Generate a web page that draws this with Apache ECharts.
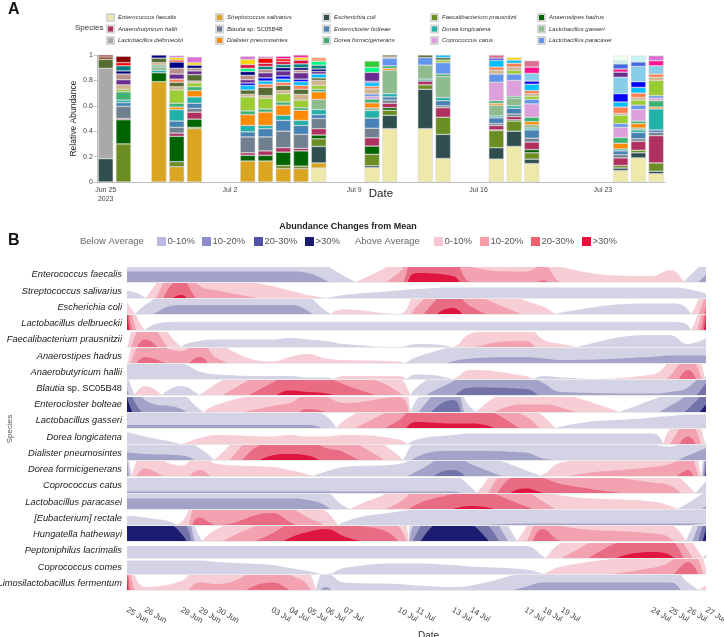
<!DOCTYPE html>
<html>
<head>
<meta charset="utf-8">
<script src="https://cdn.jsdelivr.net/npm/echarts@6/dist/echarts.min.js"></script>
<style>
  html, body { margin: 0; padding: 0; background: #fff; }
  #chart { width: 724px; height: 637px; }
</style>
</head>
<body>
<div id="chart"></div>
<script>
// ---- Panel A: sampled days (offset from Jun 25, 2023) ----
const daysA = [0, 1, 3, 4, 5, 8, 9, 10, 11, 12, 15, 16, 18, 19, 22, 23, 24, 29, 30, 31]
const yTicksA = [0, 0.2, 0.4, 0.6, 0.8, 1]

// relative abundance per sample (same order as daysA)
const abEfaecalis = [0, 0, 0, 0, 0, 0, 0, 0, 0, 0.11, 0.113, 0.42, 0.42, 0.185, 0.18, 0.28, 0.145, 0.09, 0.19, 0.065]
const abSsalivarius = [0, 0, 0.79, 0.12, 0.42, 0.165, 0.165, 0.105, 0.105, 0.04, 0, 0, 0, 0, 0, 0, 0, 0, 0, 0]
const abEcoli = [0.184, 0, 0, 0, 0, 0, 0, 0, 0, 0.13, 0.015, 0.105, 0.31, 0.19, 0.09, 0.12, 0.035, 0.02, 0.04, 0.02]
const abFprausnitzii = [0, 0.30, 0, 0.04, 0.01, 0, 0, 0.025, 0.02, 0.06, 0.09, 0.04, 0.035, 0.135, 0.135, 0.08, 0.05, 0.02, 0.02, 0.065]
const abAhadrus = [0, 0.19, 0.07, 0.20, 0.065, 0.045, 0.045, 0.105, 0.12, 0.03, 0.065, 0.02, 0, 0, 0.005, 0.01, 0.025, 0, 0, 0]
const abAhallii = [0, 0.01, 0, 0.025, 0.055, 0.02, 0.035, 0.035, 0.02, 0.05, 0.065, 0.035, 0.03, 0.075, 0.035, 0.025, 0.06, 0.06, 0.07, 0.215]
const abBlautia = [0, 0.095, 0, 0.045, 0.03, 0.125, 0.11, 0.13, 0.11, 0.08, 0.075, 0.025, 0, 0.015, 0.015, 0.02, 0.03, 0.025, 0.02, 0.025]
const abEbolteae = [0, 0.03, 0, 0.05, 0.04, 0.04, 0.065, 0.085, 0.07, 0.03, 0.08, 0.025, 0, 0.04, 0.045, 0.045, 0.065, 0.03, 0.05, 0.02]
const abDlongicatena = [0, 0.02, 0.02, 0.09, 0.05, 0.05, 0.025, 0.04, 0.04, 0.04, 0.06, 0.025, 0.015, 0.025, 0.015, 0.02, 0.015, 0.015, 0.02, 0.165]
const abLgasseri = [0, 0, 0.025, 0, 0, 0, 0, 0, 0, 0.08, 0.02, 0.185, 0.11, 0.165, 0.085, 0.06, 0.025, 0, 0.015, 0]
const abLdelbrueckii = [0.711, 0, 0, 0, 0, 0, 0, 0, 0, 0, 0, 0, 0, 0, 0, 0, 0, 0, 0, 0]
const abDialister = [0, 0, 0, 0.02, 0.05, 0.085, 0.105, 0.08, 0.08, 0.06, 0.04, 0.015, 0, 0, 0.015, 0, 0.025, 0.045, 0.035, 0.015]
const abDformicigenerans = [0, 0.065, 0.015, 0.03, 0.03, 0.03, 0.025, 0.025, 0.02, 0.02, 0.03, 0.02, 0, 0.02, 0.02, 0.015, 0.035, 0.045, 0.02, 0.05]
const abCcatus = [0, 0, 0, 0, 0, 0, 0, 0, 0, 0, 0.02, 0, 0, 0, 0.145, 0.125, 0.105, 0.08, 0.09, 0.02]
const abLparacasei = [0, 0, 0, 0, 0, 0, 0, 0, 0, 0, 0.02, 0.06, 0.06, 0.09, 0.065, 0.05, 0.035, 0.03, 0.035, 0.02]

// minor taxa (not in legend)
const abYellowgreen = [0, 0.02, 0, 0.105, 0.03, 0.11, 0.085, 0.065, 0.06, 0.03, 0, 0, 0, 0.02, 0, 0.03, 0.025, 0.065, 0.04, 0.12]
const abTan = [0, 0.035, 0.02, 0.025, 0.015, 0.02, 0.02, 0.025, 0.045, 0.04, 0.04, 0.01, 0, 0, 0.03, 0.025, 0.02, 0.015, 0.02, 0.025]
const abOliveDark = [0.07, 0, 0.035, 0.035, 0.05, 0.035, 0.065, 0.04, 0.04, 0.02, 0, 0.015, 0.02, 0.02, 0, 0, 0, 0, 0, 0]
const abCoral = [0, 0, 0, 0.025, 0, 0, 0.025, 0.025, 0.03, 0, 0.02, 0, 0, 0, 0.025, 0.03, 0.025, 0.05, 0.035, 0.025]
const abSkyDeep = [0, 0, 0, 0, 0, 0.035, 0.025, 0.025, 0.03, 0.03, 0.03, 0, 0, 0.02, 0.055, 0.025, 0.05, 0.04, 0.045, 0]
const abBlue = [0, 0, 0, 0, 0, 0.02, 0.025, 0.025, 0.02, 0, 0.01, 0, 0, 0, 0.015, 0, 0.025, 0.065, 0.045, 0]
const abSkyblue = [0, 0, 0, 0, 0, 0, 0, 0, 0, 0, 0, 0, 0, 0, 0, 0, 0.06, 0.13, 0.12, 0.065]
const abPurple = [0, 0.04, 0, 0.04, 0.03, 0.025, 0.04, 0.04, 0.05, 0.02, 0.07, 0, 0, 0, 0, 0, 0, 0.04, 0, 0]
const abRosy = [0, 0.045, 0, 0.045, 0.02, 0.035, 0.025, 0, 0.02, 0, 0, 0, 0, 0, 0, 0, 0, 0, 0, 0]
const abNavy = [0, 0.025, 0.025, 0.05, 0.025, 0.03, 0, 0.025, 0.02, 0.02, 0, 0, 0, 0, 0, 0, 0, 0, 0, 0]
const abTeal = [0, 0.04, 0, 0, 0, 0, 0.025, 0.025, 0.03, 0.03, 0, 0, 0, 0, 0, 0, 0, 0, 0, 0]
const abSpring = [0, 0, 0, 0, 0, 0.025, 0, 0, 0, 0.03, 0.04, 0, 0, 0, 0, 0, 0, 0, 0, 0]
const abLime = [0, 0, 0, 0, 0, 0, 0, 0, 0, 0, 0.05, 0, 0, 0, 0, 0, 0, 0, 0, 0]
const abCrimson = [0, 0, 0, 0, 0, 0.03, 0.025, 0.025, 0.03, 0, 0, 0, 0, 0, 0, 0, 0, 0, 0, 0]
const abRed = [0, 0.025, 0, 0.015, 0, 0, 0.04, 0.02, 0, 0, 0, 0, 0, 0, 0, 0, 0, 0, 0, 0]
const abGold = [0, 0, 0, 0.02, 0.02, 0.04, 0, 0, 0.02, 0, 0, 0, 0, 0, 0, 0.02, 0, 0, 0, 0]
const abSalmon = [0, 0, 0, 0, 0, 0, 0, 0, 0, 0.03, 0, 0, 0, 0, 0, 0, 0, 0, 0, 0]
const abDeeppink = [0, 0, 0, 0, 0, 0, 0, 0.02, 0.02, 0, 0, 0, 0, 0, 0, 0, 0.05, 0.025, 0, 0.04]
const abPaleviolet = [0, 0, 0, 0, 0, 0, 0, 0, 0, 0, 0, 0, 0, 0, 0.025, 0, 0.05, 0, 0, 0]
const abViolet = [0, 0, 0, 0.015, 0.045, 0.025, 0.013, 0, 0, 0, 0, 0, 0, 0, 0, 0, 0, 0, 0, 0.04]
const abRoyal = [0, 0, 0, 0, 0, 0, 0, 0, 0, 0, 0, 0, 0, 0, 0, 0, 0, 0.04, 0.035, 0]
const abLightcyan = [0, 0, 0, 0, 0, 0, 0, 0, 0, 0, 0, 0, 0, 0, 0, 0, 0, 0.025, 0.05, 0]
const abHoneydew = [0, 0, 0, 0, 0, 0, 0, 0, 0, 0, 0, 0, 0, 0, 0, 0, 0, 0.04, 0, 0]
const abBrown = [0.02, 0, 0, 0, 0, 0, 0, 0, 0, 0, 0, 0, 0, 0, 0, 0, 0, 0, 0, 0]
const abDarkred = [0.015, 0.05, 0, 0, 0, 0, 0, 0, 0, 0, 0, 0, 0, 0, 0, 0, 0, 0, 0, 0]

// ---- Panel B: deviation from mean (%) per sample day ----
const daysB = [0, 1, 3, 4, 5, 8, 9, 10, 11, 12, 15, 16, 18, 19, 22, 23, 24, 29, 30, 31, 32]
const dateLabelsB = ['25 Jun', '26 Jun', '28 Jun', '29 Jun', '30 Jun', '03 Jul', '04 Jul', '05 Jul', '06 Jul', '07 Jul',
  '10 Jul', '11 Jul', '13 Jul', '14 Jul', '17 Jul', '18 Jul', '19 Jul', '24 Jul', '25 Jul', '26 Jul', '27 Jul']
const speciesB = ['Enterococcus faecalis', 'Streptococcus salivarius', 'Escherichia coli', 'Lactobacillus delbrueckii',
  'Faecalibacterium prausnitzii', 'Anaerostipes hadrus', 'Anaerobutyricum hallii', 'Blautia sp. SC05B48',
  'Enterocloster bolteae', 'Lactobacillus gasseri', 'Dorea longicatena', 'Dialister pneumosintes',
  'Dorea formicigenerans', 'Coprococcus catus', 'Lactobacillus paracasei', '[Eubacterium] rectale',
  'Hungatella hathewayi', 'Peptoniphilus lacrimalis', 'Coprococcus comes', 'Limosilactobacillus fermentum']

const dvEfaecalis = [-17, -17, -17, -17, -17, -17, -17, -16, -11, -4, 16, 36, 34, 20, 17, 21, 10, 4, 8, -3, -15]
const dvSsalivarius = [-5, 0, 32, 18, 15, 8, 5, 2, 0, -2, -5, -6, -7, -7, -7, -7, -7, -7, -7, -6, -3]
const dvEcoli = [8, -6, -16, -16, -16, -16, -16, -12, -2, 3, 0, 15, 34, 25, 9, 5, -1, -7, -7, -3, 25]
const dvLdelbrueckii = [45, 0, -5.5, -5.5, -5.5, -5.5, -5.5, -5.5, -5.5, -5.5, -5.5, -5.5, -5.5, -5.5, -5.5, -5.5, -5.5, -5.5, -5.5, -3, 40]
const dvFprausnitzii = [-2, 25, 0, -4, -5, -5, -6, -5, -4, -2, 0, -2, 0, 9, 14, 5, 2, -8, -8, -2, -6]
const dvAhadrus = [-3, 24, 18, 24, 13, 1, 4, 6, 3, 2, 1, -4, -11, -13, -14, -13, -12, -14, -15, -15, -15]
const dvAhallii = [-10, -10, -10, -5, -3, -2, -2, -1, -1, 2, 2, -3, 0, 6, 2, -2, -1, 3, 12, 26, -3]
const dvBlautia = [-15, 6, -6, 0, 8, 28, 33, 32, 31, 27, 12, -5, -19, -25, -24, -18, -12, -11, -12, -15, -28]
const dvEbolteae = [-40, -18, -12, -2, 5, 14, 16, 22, 20, 16, 20, -8, -28, -3, 15, 15, 13, -8, -14, -22, -35]
const dvLgasseri = [-12, -12, -12, -12, -12, -12, -12, -12, -8, 5, 25, 34, 33, 33, 18, 8, -1, -7, -8, -9, -9]
const dvDlongicatena = [-8, -5, 0, 4, 6, 5, 6, 5, 5, 6, 3, -3, -6, -7, -7, -7, -7, -7, 10, 25, -3]
const dvDialister = [-15, -14, -13, -8, 2, 33, 34, 33, 28, 25, 3, -12, -16, -16, -15, -11, -10, -10, -9, -13, -18]
const dvDformicigenerans = [-25, 15, 7, 14, 8, 6, 4, 1, -3, -6, -8, -13, -24, -18, -4, 1, 9, 16, 18, 24, -35]
const dvCcatus = [-11, -11, -11, -11, -11, -11, -11, -11, -11, -11, -11, -11, -11, -4, 33, 30, 26, 17, 15, 5, -8]
const dvLparacasei = [-17, -17, -17, -17, -17, -17, -17, -16, -12, -2, 14, 23, 30, 32, 22, 15, 9, 5, 2, -4, -12]
const dvErectale = [-6, -5, 2, 25, 20, 28, 22, 15, 9, -2, -9, -10, -10, -10, -11, -11, -11, -11, -11, -11, -11]
const dvHungatella = [-45, -45, -35, -3, 8, 25, 32, 36, 38, 33, 20, -25, -45, -42, 8, 28, 20, 15, 12, -3, -38]
const dvPeptoniphilus = [-8, -8, -8, -8, -8, -8, -8, -8, -8, -8, -8, -8, -8, -8, -8, -1, 10, 34, 32, 15, -3]
const dvCcomes = [-9, -9, -9, -9, -8, -6, -4, -2, 0, -4, -7, -7, -6, -5, -3, 0, 5, 14, 18, 28, 3]
const dvLfermentum = [40, 2, 6, 15, 14, 25, 20, 13, -12, -5, -4, -3, -2, -3, -12, -15, -15, -15, -15, -5, 3]

const devRows = [dvEfaecalis, dvSsalivarius, dvEcoli, dvLdelbrueckii, dvFprausnitzii, dvAhadrus, dvAhallii, dvBlautia,
  dvEbolteae, dvLgasseri, dvDlongicatena, dvDialister, dvDformicigenerans, dvCcatus, dvLparacasei, dvErectale,
  dvHungatella, dvPeptoniphilus, dvCcomes, dvLfermentum]

const bandLabels = ['0-10%', '10-20%', '20-30%', '>30%']

// ---- styles ----
const FONT = 'Liberation Sans, Arial, sans-serif'
const blueFill = ['#d3d3e5', '#a3a3c9', '#7373aa', '#1c1c70']
const redFill = ['#f7ced6', '#f2a2b1', '#ea6c84', '#df1640']
const blueKey = ['#b9b9e2', '#8c8cc9', '#5252a8', '#1a1a6e']
const redKey = ['#f9c6cf', '#f49ea8', '#f0606f', '#e8103b']

const taxaLegend = [
  { name: 'Enterococcus faecalis', color: '#eee8aa', data: abEfaecalis },
  { name: 'Streptococcus salivarius', color: '#daa520', data: abSsalivarius },
  { name: 'Escherichia coli', color: '#2f4f4f', data: abEcoli },
  { name: 'Faecalibacterium prausnitzii', color: '#6b8e23', data: abFprausnitzii },
  { name: 'Anaerostipes hadrus', color: '#006400', data: abAhadrus },
  { name: 'Anaerobutyricum hallii', color: '#b03060', data: abAhallii },
  { name: 'Blautia sp. SC05B48', color: '#708090', data: abBlautia },
  { name: 'Enterocloster bolteae', color: '#4682b4', data: abEbolteae },
  { name: 'Dorea longicatena', color: '#20b2aa', data: abDlongicatena },
  { name: 'Lactobacillus gasseri', color: '#8fbc8f', data: abLgasseri },
  { name: 'Lactobacillus delbrueckii', color: '#a9a9a9', data: abLdelbrueckii },
  { name: 'Dialister pneumosintes', color: '#ff8c00', data: abDialister },
  { name: 'Dorea formicigenerans', color: '#3cb371', data: abDformicigenerans },
  { name: 'Coprococcus catus', color: '#dda0dd', data: abCcatus },
  { name: 'Lactobacillus paracasei', color: '#6495ed', data: abLparacasei }
]
const taxaMinor = [
  ['minor-1', '#9acd32', abYellowgreen], ['minor-2', '#d2b48c', abTan], ['minor-3', '#556b2f', abOliveDark],
  ['minor-4', '#ff7f50', abCoral], ['minor-5', '#00bfff', abSkyDeep], ['minor-6', '#0000ff', abBlue],
  ['minor-7', '#87ceeb', abSkyblue], ['minor-8', '#6a2c91', abPurple], ['minor-9', '#bc8f8f', abRosy],
  ['minor-10', '#000080', abNavy], ['minor-11', '#008080', abTeal], ['minor-12', '#00ff7f', abSpring],
  ['minor-13', '#32cd32', abLime], ['minor-14', '#dc143c', abCrimson], ['minor-15', '#ff0000', abRed],
  ['minor-16', '#ffd700', abGold], ['minor-17', '#ffa07a', abSalmon], ['minor-18', '#ff1493', abDeeppink],
  ['minor-19', '#db7093', abPaleviolet], ['minor-20', '#da70d6', abViolet], ['minor-21', '#4169e1', abRoyal],
  ['minor-22', '#c8f4f4', abLightcyan], ['minor-23', '#f0fff0', abHoneydew], ['minor-24', '#8b4513', abBrown],
  ['minor-25', '#8b0000', abDarkred]
]

// category slots: one per day Jun 25 .. Jul 26
const MONTHS = ['Jan', 'Feb', 'Mar', 'Apr', 'May', 'Jun', 'Jul', 'Aug', 'Sep', 'Oct', 'Nov', 'Dec']
const dayCats = []
for (let i = 0; i < 32; i++) {
  const d = new Date(2023, 5, 25 + i)
  dayCats.push(i === 0 ? 'Jun 25\n2023' : MONTHS[d.getMonth()] + ' ' + d.getDate())
}
const toSlots = (arr) => {
  const s = new Array(32).fill(null)
  arr.forEach((v, j) => { if (v) s[daysA[j]] = v })
  return s
}

const chart = echarts.init(document.getElementById('chart'), null, { renderer: 'canvas' })

const grids = [], xAxes = [], yAxes = [], series = []
const gridBase = { containLabel: false, outerBoundsMode: 'none' }

// grid 0: stacked bars
grids.push(Object.assign({ left: 96.8, width: 568.2, top: 55, height: 127 }, gridBase))
xAxes.push({
  gridIndex: 0, type: 'category', data: dayCats,
  axisLine: { lineStyle: { color: '#bdbdbd' } },
  axisTick: { alignWithLabel: true, interval: (i) => i % 7 === 0, length: 3, lineStyle: { color: '#bdbdbd' } },
  axisLabel: { interval: (i) => i % 7 === 0, fontSize: 7, color: '#444', fontFamily: FONT, margin: 4, lineHeight: 9 },
  name: 'Date', nameLocation: 'middle', nameGap: 6, nameMoveOverlap: false,
  nameTextStyle: { fontSize: 11.5, color: '#222', fontFamily: FONT }
})
yAxes.push({
  gridIndex: 0, type: 'value', min: 0, max: 1, interval: 0.2,
  axisLine: { show: true, lineStyle: { color: '#bdbdbd' } },
  axisTick: { show: true, length: 3, lineStyle: { color: '#bdbdbd' } },
  splitLine: { show: false },
  axisLabel: { fontSize: 7, color: '#444', fontFamily: FONT, margin: 4,
    formatter: (v) => (yTicksA.includes(v) && v !== 0 && v !== 1 ? v.toFixed(1) : String(v)) },
  name: 'Relative Abundance', nameLocation: 'middle', nameGap: 19, nameMoveOverlap: false,
  nameTextStyle: { fontSize: 8.5, color: '#222', fontFamily: FONT }
})

const barItem = (color) => ({ color, borderColor: '#d6d6d6', borderWidth: 0.5 })
taxaLegend.forEach((t) => {
  series.push({ type: 'bar', name: t.name, stack: 'ab', xAxisIndex: 0, yAxisIndex: 0, barWidth: 15,
    itemStyle: barItem(t.color), data: toSlots(t.data), silent: true })
})
taxaMinor.forEach(([name, color, data]) => {
  series.push({ type: 'bar', name, stack: 'ab', xAxisIndex: 0, yAxisIndex: 0, barWidth: 15,
    itemStyle: barItem(color), data: toSlots(data), silent: true })
})

// horizon rows: one grid each (pixel aligned), 4 stacked y-bands per grid
const ROW_TOP = 266.6, ROW_STEP = 16.24, ROW_H = 15
devRows.forEach((vals, r) => {
  const g = grids.length
  grids.push(Object.assign({ left: 127, right: 18, top: Math.round(ROW_TOP + r * ROW_STEP), height: ROW_H }, gridBase))
  const xi = xAxes.length
  // thin separator line under each row
  xAxes.push({ gridIndex: g, type: 'value', min: 0, max: 32,
    axisLine: { show: true, lineStyle: { color: '#e4e4e4', width: 0.8 } },
    axisTick: { show: false }, axisLabel: { show: false }, splitLine: { show: false } })
  const y0 = yAxes.length
  for (let k = 0; k < 4; k++) {
    yAxes.push({ gridIndex: g, type: 'value', min: k * 10, max: k * 10 + 10, show: false })
  }
  for (let k = 0; k < 4; k++) {
    ;[[blueFill[k], -1], [redFill[k], 1]].forEach(([col, sgn]) => {
      series.push({
        type: 'line', xAxisIndex: xi, yAxisIndex: y0 + k, smooth: 0.45, symbol: 'none', silent: true,
        clip: true, lineStyle: { width: 0 }, areaStyle: { color: col, opacity: 1, origin: 'start' },
        data: vals.map((v, j) => [daysB[j], sgn * v])
      })
    })
  }
})

// overlay grid for species labels and the date axis
const gOv = grids.length
grids.push(Object.assign({ left: 127, right: 18, top: ROW_TOP, height: ROW_STEP * 20 }, gridBase))
xAxes.push({
  gridIndex: gOv, type: 'value', min: 0, max: 32, offset: 13,
  axisLine: { lineStyle: { color: '#cfcfcf' } },
  axisTick: { show: false },
  splitLine: { show: false },
  axisLabel: { customValues: daysB, rotate: -30, fontSize: 8, color: '#444', fontFamily: FONT, margin: 5,
    formatter: (v) => dateLabelsB[daysB.indexOf(v)] || '' },
  name: 'Date', nameLocation: 'middle', nameGap: 27, nameMoveOverlap: false,
  nameTextStyle: { fontSize: 10, color: '#333', fontFamily: FONT, padding: [0, 0, 0, 24] }
})
yAxes.push({
  gridIndex: gOv, type: 'category', data: speciesB, inverse: true,
  axisLine: { show: false }, axisTick: { show: false }, splitLine: { show: false },
  axisLabel: { fontSize: 9.3, color: '#222', fontFamily: FONT, fontStyle: 'italic', margin: 5,
    formatter: (v) => (v === 'Blautia sp. SC05B48' ? '{i|Blautia} {n|sp. SC05B48}' : v),
    rich: { i: { fontStyle: 'italic', fontSize: 9.3, color: '#222', fontFamily: FONT },
      n: { fontStyle: 'normal', fontSize: 9.3, color: '#222', fontFamily: FONT } } },
  name: 'Species', nameLocation: 'middle', nameGap: 113, nameRotate: 90, nameMoveOverlap: false,
  nameTextStyle: { fontSize: 8, color: '#555', fontFamily: FONT }
})

// Panel A legend: five columns of three
const legendCols = [106, 215, 322, 430, 537]
const legends = legendCols.map((left, c) => ({
  orient: 'vertical', left, top: 13, padding: 0, itemWidth: 7, itemHeight: 7, itemGap: 2.5, icon: 'rect',
  selectedMode: false,
  data: [taxaLegend[c].name, taxaLegend[5 + c].name, taxaLegend[10 + c].name],
  textStyle: { fontSize: 6, fontStyle: 'italic', color: '#333', fontFamily: FONT, padding: [0, 0, 0, -1],
    rich: { i: { fontStyle: 'italic', fontSize: 6, color: '#333', fontFamily: FONT },
      n: { fontStyle: 'normal', fontSize: 6, color: '#333', fontFamily: FONT } } },
  formatter: (n) => (n === 'Blautia sp. SC05B48' ? '{i|Blautia} {n|sp. SC05B48}' : n)
}))

// text and Panel B key
const keyItems = []
const addText = (x, y, text, style) => keyItems.push({ type: 'text', x, y,
  style: Object.assign({ text, fontFamily: FONT, fill: '#555', fontSize: 9.5, verticalAlign: 'middle' }, style) })
addText(8, 10, 'A', { fontSize: 16, fontWeight: 'bold', fill: '#111' })
addText(75, 28, 'Species', { fontSize: 8, fill: '#333' })
addText(8, 241, 'B', { fontSize: 16, fontWeight: 'bold', fill: '#111' })
addText(348, 227, 'Abundance Changes from Mean', { fontSize: 9, fontWeight: 'bold', fill: '#222', align: 'center' })
addText(80, 241.5, 'Below Average', { fill: '#666' })
addText(355, 241.5, 'Above Average', { fill: '#666' })
const keyBlueX = [157, 202, 254, 305], keyRedX = [434, 480, 531, 582]
bandLabels.forEach((lab, k) => {
  ;[[keyBlueX[k], blueKey[k]], [keyRedX[k], redKey[k]]].forEach(([x, col]) => {
    keyItems.push({ type: 'rect', x, y: 237, shape: { width: 9, height: 9 }, style: { fill: col } })
    addText(x + 10.5, 241.5, lab, { fill: '#555' })
  })
})

chart.setOption({
  animation: false,
  backgroundColor: '#fff',
  textStyle: { fontFamily: FONT },
  legend: legends,
  grid: grids,
  xAxis: xAxes,
  yAxis: yAxes,
  series,
  graphic: keyItems
})
</script>
</body>
</html>
